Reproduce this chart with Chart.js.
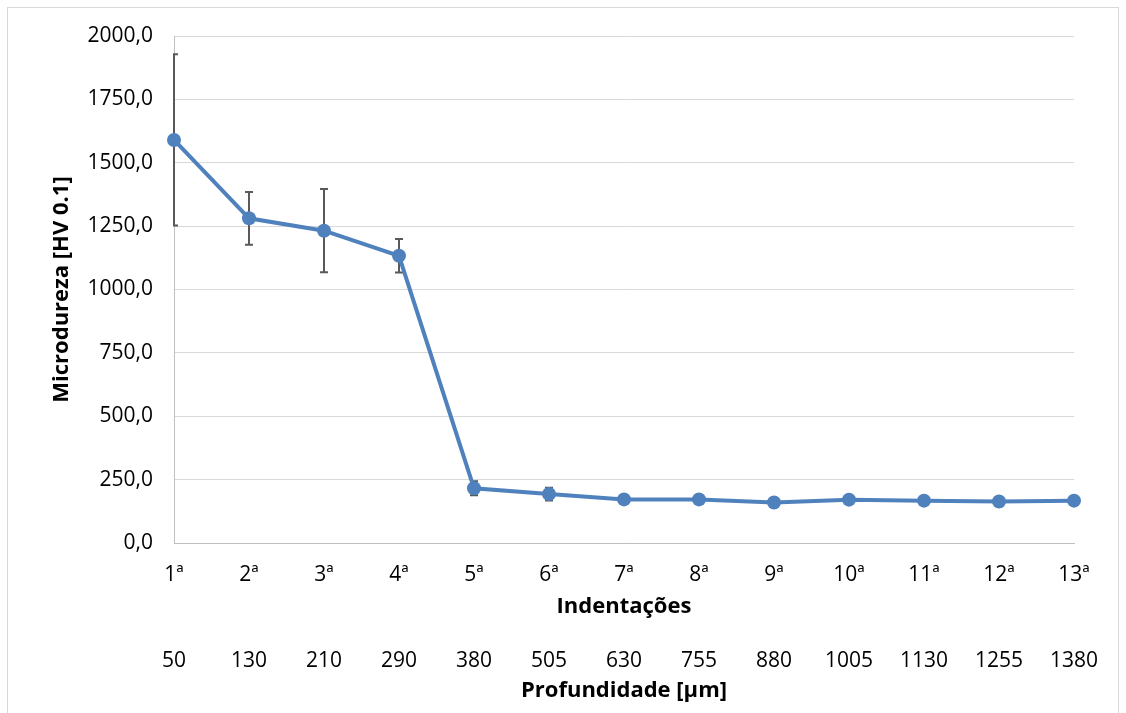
<!DOCTYPE html>
<html>
<head>
<meta charset="utf-8">
<script src="https://cdn.jsdelivr.net/npm/chart.js@4"></script>
<style>
  html, body { margin: 0; padding: 0; background: #fff; }
  #wrap { width: 1126px; height: 713px; position: relative; }
</style>
</head>
<body>
<div id="wrap"><canvas id="c" width="1126" height="713"></canvas></div>
<script>
const categories = ['1ª','2ª','3ª','4ª','5ª','6ª','7ª','8ª','9ª','10ª','11ª','12ª','13ª'];
const depths = ['50','130','210','290','380','505','630','755','880','1005','1130','1255','1380'];
const hardness = [1590, 1281, 1232, 1133, 216, 193, 172, 172, 160, 171, 167, 164, 167];
const hardnessError = [338, 104, 164, 66, 28, 25, 6, 6, 5, 6, 5, 5, 5];
const yMin = 0, yMax = 2000, yStep = 250;

const FONT = "'Open Sans', 'Liberation Sans', sans-serif";

const frame = {
  id: 'frame',
  beforeDraw(chart) {
    const ctx = chart.ctx;
    ctx.save();
    ctx.fillStyle = '#fff';
    ctx.fillRect(0, 0, chart.width, chart.height);
    ctx.strokeStyle = '#d9d9d9';
    ctx.lineWidth = 1;
    ctx.strokeRect(7.5, 7.5, 1111, 720);
    ctx.restore();
  }
};

const errorBars = {
  id: 'errorBars',
  beforeDatasetsDraw(chart) {
    const ctx = chart.ctx;
    const xs = chart.scales.x, ys = chart.scales.y;
    const a = chart.chartArea;
    ctx.save();
    ctx.beginPath();
    ctx.rect(a.left - 1, a.top - 20, a.right - a.left + 2, a.bottom - a.top + 40);
    ctx.clip();
    ctx.strokeStyle = '#595959';
    ctx.lineWidth = 2;
    hardness.forEach((v, i) => {
      const e = hardnessError[i];
      const x = xs.getPixelForValue(i);
      const yTop = ys.getPixelForValue(v + e);
      const yBot = ys.getPixelForValue(v - e);
      const cap = 4;
      ctx.beginPath();
      ctx.moveTo(x, yTop); ctx.lineTo(x, yBot);
      ctx.moveTo(x - cap, yTop); ctx.lineTo(x + cap, yTop);
      ctx.moveTo(x - cap, yBot); ctx.lineTo(x + cap, yBot);
      ctx.stroke();
    });
    ctx.restore();
  }
};

new Chart(document.getElementById('c'), {
  type: 'line',
  data: {
    labels: categories,
    datasets: [{
      data: hardness,
      borderColor: '#4F81BD',
      backgroundColor: '#4F81BD',
      borderWidth: 4,
      pointRadius: 7,
      pointHoverRadius: 7,
      pointBorderWidth: 0,
      tension: 0,
      clip: false
    }]
  },
  options: {
    responsive: false,
    animation: false,
    events: [],
    layout: { padding: { left: 45, right: 52, top: 36, bottom: 5 } },
    plugins: { legend: { display: false }, tooltip: { enabled: false } },
    scales: {
      y: {
        min: yMin, max: yMax,
        ticks: {
          stepSize: yStep,
          padding: 21,
          color: '#000',
          font: { family: FONT, size: 21 },
          callback: v => v.toFixed(1).replace('.', ',')
        },
        grid: { color: '#d9d9d9', lineWidth: 1, drawTicks: false },
        border: { display: true, color: '#bfbfbf', width: 1 },
        title: {
          display: true, text: 'Microdureza [HV 0.1]', color: '#000',
          font: { family: FONT, size: 22, weight: 'bold' },
          padding: { top: 4, bottom: 4 }
        },
        afterFit(s) { s.width = 129; }
      },
      x: {
        type: 'category',
        weight: 0,
        offset: false,
        position: 'bottom',
        ticks: {
          padding: 19, color: '#000', maxRotation: 0, autoSkip: false,
          font: { family: FONT, size: 21 }
        },
        grid: { display: false, drawTicks: false },
        border: { display: true, color: '#bfbfbf', width: 1 },
        title: {
          display: true, text: 'Indentações', color: '#000',
          font: { family: FONT, size: 22, weight: 'bold' },
          padding: { top: 4, bottom: 4 }
        },
        afterFit(s) { s.height = 81; }
      },
      x2: {
        type: 'category',
        labels: depths,
        weight: 1,
        offset: false,
        position: 'bottom',
        ticks: {
          padding: 24, color: '#000', maxRotation: 0, autoSkip: false,
          font: { family: FONT, size: 21 }
        },
        grid: { display: false, drawTicks: false },
        border: { display: false },
        title: {
          display: true, text: 'Profundidade [µm]', color: '#000',
          font: { family: FONT, size: 22, weight: 'bold' },
          padding: { top: 4, bottom: 4 }
        },
        afterFit(s) { s.height = 84; }
      }
    }
  },
  plugins: [frame, errorBars]
});
</script>
</body>
</html>
